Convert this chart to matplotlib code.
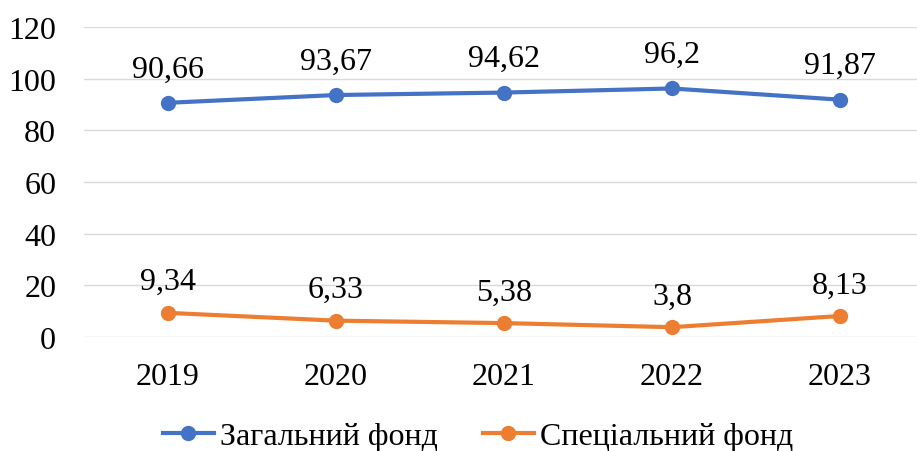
import matplotlib
matplotlib.use('Agg')
import matplotlib.pyplot as plt

years = ['2019', '2020', '2021', '2022', '2023']
general_fund = [90.66, 93.67, 94.62, 96.2, 91.87]
special_fund = [9.34, 6.33, 5.38, 3.8, 8.13]
general_labels = ['90,66', '93,67', '94,62', '96,2', '91,87']
special_labels = ['9,34', '6,33', '5,38', '3,8', '8,13']

plt.rcParams['font.family'] = ['Liberation Serif', 'DejaVu Serif']

fig = plt.figure(figsize=(9.17, 4.52), dpi=100)
ax = fig.add_axes([84 / 917, 1 - 338 / 452, 1 - 84 / 917, (338 - 28) / 452])

x = list(range(len(years)))
ax.plot(x, general_fund, color='#4472C4', lw=3, marker='o', ms=10,
        label='Загальний фонд', zorder=3)
ax.plot(x, special_fund, color='#ED7D31', lw=3, marker='o', ms=10,
        label='Спеціальний фонд', zorder=3)

for xi, v, t in zip(x, general_fund, general_labels):
    ax.annotate(t, (xi, v), xytext=(0, 14), textcoords='offset points',
                ha='center', va='bottom', fontsize=23)
for xi, v, t in zip(x, special_fund, special_labels):
    ax.annotate(t, (xi, v), xytext=(0, 12), textcoords='offset points',
                ha='center', va='bottom', fontsize=23)

ax.set_ylim(0, 120)
ax.set_yticks(range(0, 121, 20))
ax.set_xlim(-0.5, -0.5 + 833 / 168)
ax.set_xticks(x, years)
ax.grid(axis='y', color='#D9D9D9', lw=1)
ax.set_axisbelow(True)
for s in ax.spines.values():
    s.set_visible(False)
ax.tick_params(length=0, labelsize=23)
ax.tick_params(axis='x', pad=18)
ax.tick_params(axis='y', pad=20)

fig.legend(loc='center', bbox_to_anchor=(478 / 917, 1 - 437 / 452), ncol=2,
           frameon=False, fontsize=23, handlelength=1.6, columnspacing=1.4,
           handletextpad=0.2)

fig.savefig('out.png', dpi=100)
